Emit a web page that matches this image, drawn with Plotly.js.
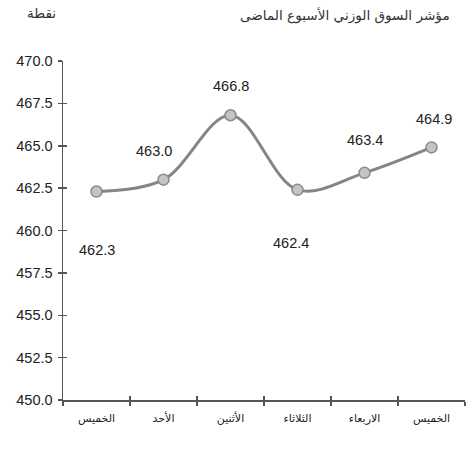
<!DOCTYPE html>
<html><head><meta charset="utf-8">
<script src="https://cdn.plot.ly/plotly-3.0.1.min.js"></script>
<style>html,body{margin:0;padding:0;background:#fff}#c{width:474px;height:450px}</style>
</head><body><div id="c"></div>
<script>
const days = ["الخميس","الأحد","الأثنين","الثلاثاء","الاربعاء","الخميس"];
const values = [462.3, 463.0, 466.8, 462.4, 463.4, 464.9];
const yTicks = [450, 452.5, 455, 457.5, 460, 462.5, 465, 467.5, 470];
const chartTitle = "مؤشر السوق الوزني الأسبوع الماضى";
const unitLabel = "نقطة";

const idx = days.map((d,i)=>i);
const bounds = [];
for (let i=0;i<=days.length;i++) bounds.push(i-0.5);
// label offsets (style)
const labelShiftY = [-58, 29, 29, -53, 33, 28];
const labelShiftX = [0, -10, 0, -7, 0, 2];

const font = {family:"Liberation Sans, Arial, sans-serif", size:14.5, color:"#222"};
const arFont = {family:"DejaVu Sans, sans-serif", size:11, color:"#222"};
const xr = [bounds[0], bounds[bounds.length-1]];
const yr = [yTicks[0], yTicks[yTicks.length-1]];

const trace = {
  x: idx, y: values, type:"scatter", mode:"lines+markers",
  line:{shape:"spline", smoothing:1, color:"#858585", width:3},
  marker:{size:11, color:"#c4c4c4", line:{color:"#8a8a8a", width:1.5}},
  hoverinfo:"none", xaxis:"x", yaxis:"y"
};
const ghost = (xa, ya) => ({x:[xr[0]], y:[yr[0]], xaxis:xa, yaxis:ya, mode:"markers", marker:{opacity:0}, hoverinfo:"none", showlegend:false});

const annotations = values.map((v,i)=>({
  x:i, y:v, xref:"x", yref:"y", text:v.toFixed(1), showarrow:false,
  yshift:labelShiftY[i], xshift:labelShiftX[i], font:font
}));
annotations.push({xref:"paper", yref:"paper", x:1.0, y:1, yshift:46, xanchor:"right", yanchor:"middle", xshift:-13, text:chartTitle, showarrow:false, font:{...arFont, size:13.6, color:"#333"}});
annotations.push({xref:"paper", yref:"paper", x:0, y:1, xanchor:"center", yanchor:"middle", yshift:48, xshift:-22, text:unitLabel, showarrow:false, font:{...arFont, size:13.6, color:"#333"}});

const tickStyle = {tickwidth:1.5, tickcolor:"#555", showgrid:false, zeroline:false};
const layout = {
  width:474, height:450,
  margin:{l:63, r:9, t:61, b:50},
  paper_bgcolor:"#fff", plot_bgcolor:"#fff",
  showlegend:false,
  font:font,
  xaxis:{range:xr, tickvals:idx, ticktext:days, ticks:"", showgrid:false, zeroline:false, showline:false, tickfont:arFont, ticklabelstandoff:10},
  xaxis2:{overlaying:"x", anchor:"y", range:xr, tickvals:bounds, ticktext:bounds.map(()=>""), ticks:"outside", ticklen:4, showline:true, linecolor:"#555", linewidth:1.5, ...tickStyle},
  xaxis3:{overlaying:"x", anchor:"y", range:xr, tickvals:bounds, ticktext:bounds.map(()=>""), ticks:"inside", ticklen:4, showline:false, ...tickStyle},
  yaxis:{range:yr, tickvals:yTicks, ticktext:yTicks.map(v=>v.toFixed(1)), ticks:"outside", ticklen:4, showline:true, linecolor:"#555", linewidth:1.5, tickfont:font, ticklabelstandoff:2, ...tickStyle},
  yaxis2:{overlaying:"y", anchor:"x", range:yr, tickvals:yTicks, ticktext:yTicks.map(()=>""), ticks:"inside", ticklen:4, showline:false, ...tickStyle},
  annotations:annotations
};
Plotly.newPlot("c", [ghost("x2","y"), ghost("x3","y"), ghost("x","y2"), trace], layout, {staticPlot:true, displayModeBar:false});
</script></body></html>
